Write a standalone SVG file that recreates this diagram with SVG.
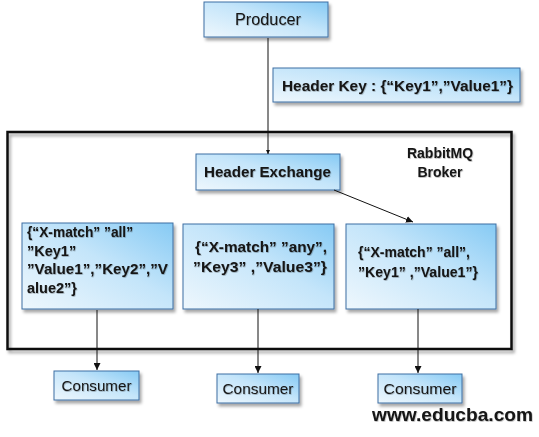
<svg xmlns="http://www.w3.org/2000/svg" width="539" height="437" viewBox="0 0 539 437">
  <defs>
    <linearGradient id="blue" x1="0" y1="1" x2="1" y2="0">
      <stop offset="0" stop-color="#eef7fd"/>
      <stop offset="0.55" stop-color="#c4e5fa"/>
      <stop offset="1" stop-color="#86caf4"/>
    </linearGradient>
    <filter id="shadow" x="-10%" y="-10%" width="130%" height="140%">
      <feDropShadow dx="2" dy="3" stdDeviation="1.8" flood-color="#000" flood-opacity="0.35"/>
    </filter>
    <filter id="tshadow" x="-5%" y="-20%" width="110%" height="150%">
      <feDropShadow dx="0.6" dy="0.8" stdDeviation="0.6" flood-color="#000" flood-opacity="0.3"/>
    </filter>
    <marker id="arrow" viewBox="0 0 10 10" refX="10" refY="5" markerWidth="7" markerHeight="7" markerUnits="userSpaceOnUse" orient="auto">
      <path d="M0,0 L10,5 L0,10 z" fill="#111"/>
    </marker>
    <marker id="arrowB" viewBox="0 0 10 10" refX="10" refY="5" markerWidth="4.5" markerHeight="4.5" orient="auto">
      <path d="M0,0 L10,5 L0,10 z" fill="#111"/>
    </marker>
  </defs>
  <style>
    .box { fill: url(#blue); stroke: #3d6fa3; stroke-width: 1; filter: url(#shadow); }
    .t { font-family: "Liberation Sans", Arial, sans-serif; fill: #141414; filter: url(#tshadow); }
    .b { font-weight: bold; }
    .conn { stroke: #111; stroke-width: 1; fill: none; }
  </style>

  <rect width="539" height="437" fill="#ffffff"/>

  <g id="broker">
    <rect x="7.5" y="132" width="504" height="217" fill="none" stroke="#111" stroke-width="2.5" filter="url(#shadow)"/>
    <text class="t b" x="440" y="158" font-size="14" text-anchor="middle">RabbitMQ</text>
    <text class="t b" x="440" y="177" font-size="14" text-anchor="middle">Broker</text>
  </g>

  <g id="producer">
    <rect class="box" x="204" y="2" width="124" height="35"/>
    <text class="t" x="268" y="25" font-size="16" text-anchor="middle" textLength="66" lengthAdjust="spacingAndGlyphs">Producer</text>
  </g>

  <g id="header-key">
    <rect class="box" x="273" y="68" width="247" height="34"/>
    <text class="t b" x="282" y="90.5" font-size="15" textLength="231" lengthAdjust="spacingAndGlyphs">Header Key : {“Key1”,”Value1”}</text>
  </g>

  <g id="header-exchange">
    <rect class="box" x="196" y="154" width="144" height="36"/>
    <text class="t b" x="204" y="177" font-size="15" textLength="127" lengthAdjust="spacingAndGlyphs">Header Exchange</text>
  </g>

  <g id="queue-all-left">
    <rect class="box" x="22" y="223" width="151" height="86"/>
    <text class="t b" font-size="14.5">
      <tspan x="27" y="237" textLength="106" lengthAdjust="spacingAndGlyphs">{“X-match” ”all”</tspan>
      <tspan x="27" y="255.5">”Key1”</tspan>
      <tspan x="27" y="274" textLength="141" lengthAdjust="spacingAndGlyphs">”Value1”,”Key2”,”V</tspan>
      <tspan x="27" y="292.5">alue2”}</tspan>
    </text>
  </g>

  <g id="queue-any">
    <rect class="box" x="183" y="224" width="151" height="85"/>
    <text class="t b" x="195" y="252" font-size="15.5" textLength="132" lengthAdjust="spacingAndGlyphs">{“X-match” ”any”,</text>
    <text class="t b" x="193" y="272" font-size="15.5" textLength="134" lengthAdjust="spacingAndGlyphs">”Key3” ,”Value3”}</text>
  </g>

  <g id="queue-all-right">
    <rect class="box" x="346" y="224" width="150" height="85"/>
    <text class="t b" x="358" y="257" font-size="14.5" textLength="112" lengthAdjust="spacingAndGlyphs">{“X-match” ”all”,</text>
    <text class="t b" x="358" y="277" font-size="14.5" textLength="120" lengthAdjust="spacingAndGlyphs">”Key1” ,”Value1”}</text>
  </g>

  <g id="consumer-1">
    <rect class="box" x="54" y="371" width="85" height="29"/>
    <text class="t" x="96.5" y="390.5" font-size="15" text-anchor="middle" textLength="70" lengthAdjust="spacingAndGlyphs">Consumer</text>
  </g>
  <g id="consumer-2">
    <rect class="box" x="217" y="374" width="82" height="29"/>
    <text class="t" x="258" y="393.5" font-size="15" text-anchor="middle" textLength="71" lengthAdjust="spacingAndGlyphs">Consumer</text>
  </g>
  <g id="consumer-3">
    <rect class="box" x="378" y="374" width="84" height="29"/>
    <text class="t" x="420" y="393.5" font-size="15" text-anchor="middle" textLength="73" lengthAdjust="spacingAndGlyphs">Consumer</text>
  </g>

  <g id="connectors">
    <line class="conn" x1="268" y1="38" x2="268" y2="154" stroke-width="2" marker-end="url(#arrowB)"/>
    <line class="conn" x1="334" y1="190" x2="413" y2="222" marker-end="url(#arrow)"/>
    <line class="conn" x1="97" y1="310" x2="97" y2="370" marker-end="url(#arrow)"/>
    <line class="conn" x1="258" y1="309" x2="258" y2="373" marker-end="url(#arrow)"/>
    <line class="conn" x1="418" y1="309" x2="418" y2="373" marker-end="url(#arrow)"/>
  </g>

  <text id="watermark" class="t b" x="372" y="421" font-size="19" textLength="161" lengthAdjust="spacingAndGlyphs">www.educba.com</text>
</svg>
